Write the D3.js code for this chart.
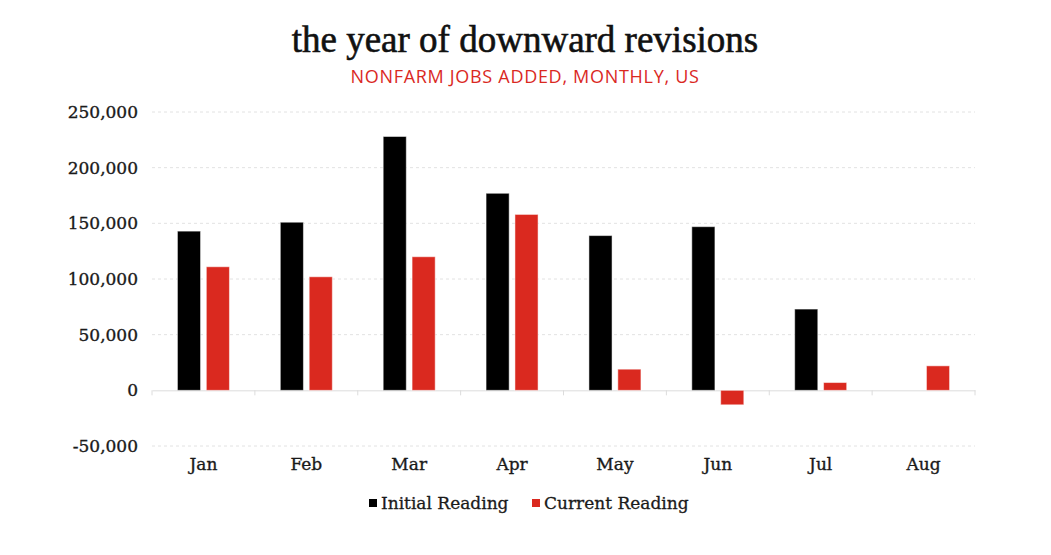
<!DOCTYPE html>
<html>
<head>
<meta charset="utf-8">
<script src="https://cdn.jsdelivr.net/npm/d3@7"></script>
<style>
  body { margin: 0; background: #fff; }
</style>
</head>
<body>
<svg id="chart" width="1051" height="555"></svg>
<script>
const months = ['Jan', 'Feb', 'Mar', 'Apr', 'May', 'Jun', 'Jul', 'Aug'];
const initialReading = [143000, 151000, 228000, 177000, 139000, 147000, 73000, null];
const currentReading = [111000, 102000, 120000, 158000, 19000, -13000, 7000, 22000];
const seriesNames = ['Initial Reading', 'Current Reading'];
const yTicks = [-50000, 0, 50000, 100000, 150000, 200000, 250000];

const colors = { 'Initial Reading': '#000000', 'Current Reading': '#da291f' };
const serif = '"Liberation Serif", "DejaVu Serif", serif';
const axisFont = '"DejaVu Serif", serif';

const svg = d3.select('#chart');
const margin = { top: 112, right: 76, bottom: 109, left: 152 };
const width = +svg.attr('width') - margin.left - margin.right;
const height = +svg.attr('height') - margin.top - margin.bottom;

const rows = months.map((m, i) => ({
  month: m,
  values: [
    { key: seriesNames[0], value: initialReading[i] },
    { key: seriesNames[1], value: currentReading[i] }
  ]
}));

// title + subtitle
svg.append('text')
  .attr('x', 525).attr('y', 52)
  .attr('text-anchor', 'middle')
  .style('font-family', serif)
  .style('font-size', '37px')
  .attr('fill', '#111')
  .attr('stroke', '#111')
  .attr('stroke-width', 0.6)
  .text('the year of downward revisions');

svg.append('text')
  .attr('x', 525).attr('y', 83)
  .attr('text-anchor', 'middle')
  .style('font-family', '"Open Sans", sans-serif')
  .style('font-size', '18px')
  .style('letter-spacing', '0.7px')
  .attr('fill', '#da291f')
  .text('NONFARM JOBS ADDED, MONTHLY, US');

const g = svg.append('g')
  .attr('transform', `translate(${margin.left},${margin.top})`);

const x0 = d3.scaleBand().domain(months).range([0, width]);
const x1 = d3.scaleBand()
  .domain(seriesNames)
  .range([x0.bandwidth() / 2 - 26, x0.bandwidth() / 2 + 26])
  .paddingInner(0.2);
const y = d3.scaleLinear().domain([-50000, 250000]).range([height, 0]);

// grid
g.append('g')
  .selectAll('line')
  .data(yTicks.filter(t => t !== 0))
  .enter().append('line')
  .attr('x1', 0).attr('x2', width)
  .attr('y1', d => y(d)).attr('y2', d => y(d))
  .attr('stroke', '#e2e2e2')
  .attr('stroke-dasharray', '3,3');

// y axis labels (plain hyphen for negatives, like the original)
const fmt = d3.format(',');
const yAxis = g.append('g')
  .call(d3.axisLeft(y).tickValues(yTicks).tickSize(0).tickPadding(14)
    .tickFormat(d => fmt(d).replace('\u2212', '-')));
yAxis.select('.domain').remove();
yAxis.selectAll('text')
  .style('font-family', axisFont)
  .style('font-size', '17px')
  .attr('fill', '#1a1a1a')
  .attr('stroke', '#1a1a1a')
  .attr('stroke-width', 0.35);

// x axis on zero line
const xAxis = g.append('g')
  .attr('transform', `translate(0,${y(0)})`)
  .call(d3.axisBottom(x0).tickSize(0));
xAxis.select('.domain').attr('stroke', '#dcdcdc');
xAxis.selectAll('text').remove();

// band boundary ticks
g.append('g')
  .selectAll('line')
  .data(months.concat(['end']))
  .enter().append('line')
  .attr('x1', (d, i) => i * x0.step()).attr('x2', (d, i) => i * x0.step())
  .attr('y1', y(0)).attr('y2', y(0) + 5)
  .attr('stroke', '#dcdcdc');

// month labels at bottom
g.append('g')
  .selectAll('text')
  .data(months)
  .enter().append('text')
  .attr('x', d => x0(d) + x0.bandwidth() / 2)
  .attr('y', height + 24)
  .attr('text-anchor', 'middle')
  .style('font-family', axisFont)
  .style('font-size', '17px')
  .attr('fill', '#1a1a1a')
  .attr('stroke', '#1a1a1a')
  .attr('stroke-width', 0.35)
  .text(d => d);

// bars
const groups = g.selectAll('.group')
  .data(rows)
  .enter().append('g')
  .attr('class', 'group')
  .attr('transform', d => `translate(${x0(d.month)},0)`);

groups.selectAll('rect')
  .data(d => d.values.filter(v => v.value !== null))
  .enter().append('rect')
  .attr('x', d => x1(d.key))
  .attr('width', x1.bandwidth())
  .attr('y', d => y(Math.max(0, d.value)))
  .attr('height', d => Math.abs(y(d.value) - y(0)))
  .attr('fill', d => colors[d.key])
  .attr('stroke', 'rgba(255,255,255,0.5)')
  .attr('stroke-width', 1);

// legend
const legend = svg.append('g').attr('transform', 'translate(0,503)');
const legendItems = [
  { key: seriesNames[0], x: 369 },
  { key: seriesNames[1], x: 532 }
];
legendItems.forEach(item => {
  legend.append('rect')
    .attr('x', item.x).attr('y', -4)
    .attr('width', 8).attr('height', 8)
    .attr('fill', colors[item.key]);
  legend.append('text')
    .attr('x', item.x + 12).attr('y', 6)
    .style('font-family', axisFont)
    .style('font-size', '17px')
    .attr('fill', '#1a1a1a')
    .attr('stroke', '#1a1a1a')
    .attr('stroke-width', 0.3)
    .text(item.key);
});
</script>
</body>
</html>
